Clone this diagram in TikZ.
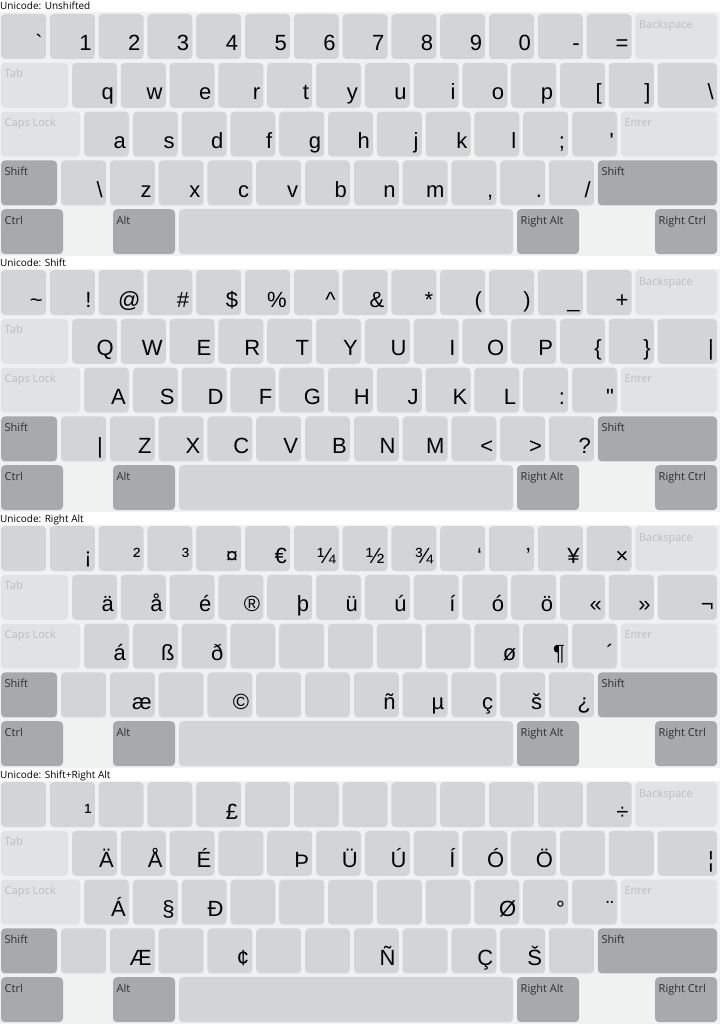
\documentclass[tikz,border=0pt]{standalone}
\usepackage{fontspec}
\setmainfont{Liberation Sans}[Ligatures=TeXOff]
\newfontfamily\uifont{Open Sans}
\definecolor{bgc}{RGB}{240,241,241}
\definecolor{keyc}{RGB}{211,212,213}
\definecolor{litec}{RGB}{225,226,227}
\definecolor{modc}{RGB}{168,169,171}
\definecolor{litetxt}{RGB}{188,189,191}
\definecolor{modtxt}{RGB}{45,45,45}
\tikzset{
  kbase/.style={rounded corners=4pt, inner sep=0pt, outer sep=0pt, minimum height=45pt, anchor=north west, draw=none},
  keyn/.style={kbase, fill=keyc, minimum width=45pt},
  keyl/.style={kbase, fill=litec},
  keym/.style={kbase, fill=modc},
  lbl/.style={font=\uifont\fontsize{11}{12}\selectfont, anchor=base west, inner sep=0pt},
  lbll/.style={lbl, text=litetxt},
  lblm/.style={lbl, text=modtxt},
  chr/.style={font=\fontsize{22}{22}\selectfont, anchor=base east, inner sep=0pt},
  ttl/.style={font=\uifont\fontsize{10}{11}\selectfont, anchor=base west, inner sep=0pt},
}
\newcommand\board[3]{%
 \fill[bgc] (0,#1+12.5) rectangle (720,#1+256);
 \node[ttl] (#3title) at (0,#1+10) {#2};
 \foreach \i in {0,...,12} {\node[keyn] (#3a\i) at ({1+\i*48.8},#1+14) {};}
 \node[keyl, minimum width=81.6pt] (#3bk) at (635.4,#1+14) {};
 \node[lbll] (#3bkt) at ([xshift=3.5pt,yshift=-15pt]#3bk.north west) {Backspace};
 \node[keyl, minimum width=67pt] (#3tab) at (1,#1+62.8) {};
 \node[lbll] (#3tabt) at ([xshift=3.5pt,yshift=-15pt]#3tab.north west) {Tab};
 \foreach \i in {0,...,11} {\node[keyn] (#3b\i) at ({72+\i*48.8},#1+62.8) {};}
 \node[keyn, minimum width=59.4pt] (#3bs) at (657.6,#1+62.8) {};
 \node[keyl, minimum width=79pt] (#3caps) at (1,#1+111.6) {};
 \node[lbll] (#3capst) at ([xshift=3.5pt,yshift=-15pt]#3caps.north west) {Caps Lock};
 \foreach \i in {0,...,10} {\node[keyn] (#3c\i) at ({84+\i*48.8},#1+111.6) {};}
 \node[keyl, minimum width=96.2pt] (#3ent) at (620.8,#1+111.6) {};
 \node[lbll] (#3entt) at ([xshift=3.5pt,yshift=-15pt]#3ent.north west) {Enter};
 \node[keym, minimum width=56pt] (#3lsh) at (1,#1+160.4) {};
 \node[lblm] (#3lsht) at ([xshift=3.5pt,yshift=-15pt]#3lsh.north west) {Shift};
 \foreach \i in {0,...,10} {\node[keyn] (#3d\i) at ({61+\i*48.8},#1+160.4) {};}
 \node[keym, minimum width=119.2pt] (#3rsh) at (597.8,#1+160.4) {};
 \node[lblm] (#3rsht) at ([xshift=3.5pt,yshift=-15pt]#3rsh.north west) {Shift};
 \node[keym, minimum width=62pt] (#3lct) at (1,#1+209.2) {};
 \node[lblm] (#3lctt) at ([xshift=3.5pt,yshift=-15pt]#3lct.north west) {Ctrl};
 \node[keym, minimum width=62pt] (#3alt) at (113,#1+209.2) {};
 \node[lblm] (#3altt) at ([xshift=3.5pt,yshift=-15pt]#3alt.north west) {Alt};
 \node[keyn, minimum width=334pt] (#3sp) at (179,#1+209.2) {};
 \node[keym, minimum width=62pt] (#3ralt) at (517,#1+209.2) {};
 \node[lblm] (#3raltt) at ([xshift=3.5pt,yshift=-15pt]#3ralt.north west) {Right Alt};
 \node[keym, minimum width=62pt] (#3rct) at (655,#1+209.2) {};
 \node[lblm] (#3rctt) at ([xshift=3.5pt,yshift=-15pt]#3rct.north west) {Right Ctrl};
}
\newcommand\chars[2]{%
 \foreach \c [count=\i from 0] in {#2} {\node[chr] (#1t\i) at ([xshift=-3pt,yshift=-37pt]#1\i.north east) {\c};}
}
\newcommand\onechar[2]{\node[chr] (#1t) at ([xshift=-3pt,yshift=-37pt]#1.north east) {#2};}
\begin{document}
\begin{tikzpicture}[x=1pt,y=-1pt]
\useasboundingbox (0,0) rectangle (720,1024);
\fill[white] (0,0) rectangle (720,1024);
\board{0}{Unicode: Unshifted}{s1}
\board{256}{Unicode: Shift}{s2}
\board{512}{Unicode: Right Alt}{s3}
\board{768}{Unicode: Shift+Right Alt}{s4}
% section 1
\chars{s1a}{{\char"60},1,2,3,4,5,6,7,8,9,0,{-},{=}}
\chars{s1b}{q,w,e,r,t,y,u,i,o,p,{[},{]}}
\onechar{s1bs}{\char"5C}
\chars{s1c}{a,s,d,f,g,h,j,k,l,{;},{\char"27}}
\chars{s1d}{{\char"5C},z,x,c,v,b,n,m,{,},{.},{/}}
% section 2
\chars{s2a}{{\char"7E},{!},{@},{\#},{\$},{\%},{\char"5E},{\&},{*},{(},{)},{\_},{+}}
\chars{s2b}{Q,W,E,R,T,Y,U,I,O,P,{\{},{\}}}
\onechar{s2bs}{|}
\chars{s2c}{A,S,D,F,G,H,J,K,L,{:},{\char"22}}
\chars{s2d}{{|},Z,X,C,V,B,N,M,{<},{>},{?}}
% section 3
\chars{s3a}{{},¡,²,³,¤,€,¼,½,¾,‘,’,¥,×}
\chars{s3b}{ä,å,é,®,þ,ü,ú,í,ó,ö,«,»}
\onechar{s3bs}{¬}
\chars{s3c}{á,ß,ð,{},{},{},{},{},ø,¶,´}
\chars{s3d}{{},æ,{},©,{},{},ñ,µ,ç,š,¿}
% section 4
\chars{s4a}{{},¹,{},{},£,{},{},{},{},{},{},{},÷}
\chars{s4b}{Ä,Å,É,{},Þ,Ü,Ú,Í,Ó,Ö,{},{}}
\onechar{s4bs}{¦}
\chars{s4c}{Á,§,Ð,{},{},{},{},{},Ø,°,¨}
\chars{s4d}{{},Æ,{},¢,{},{},Ñ,{},Ç,Š,{}}
\end{tikzpicture}
\end{document}
